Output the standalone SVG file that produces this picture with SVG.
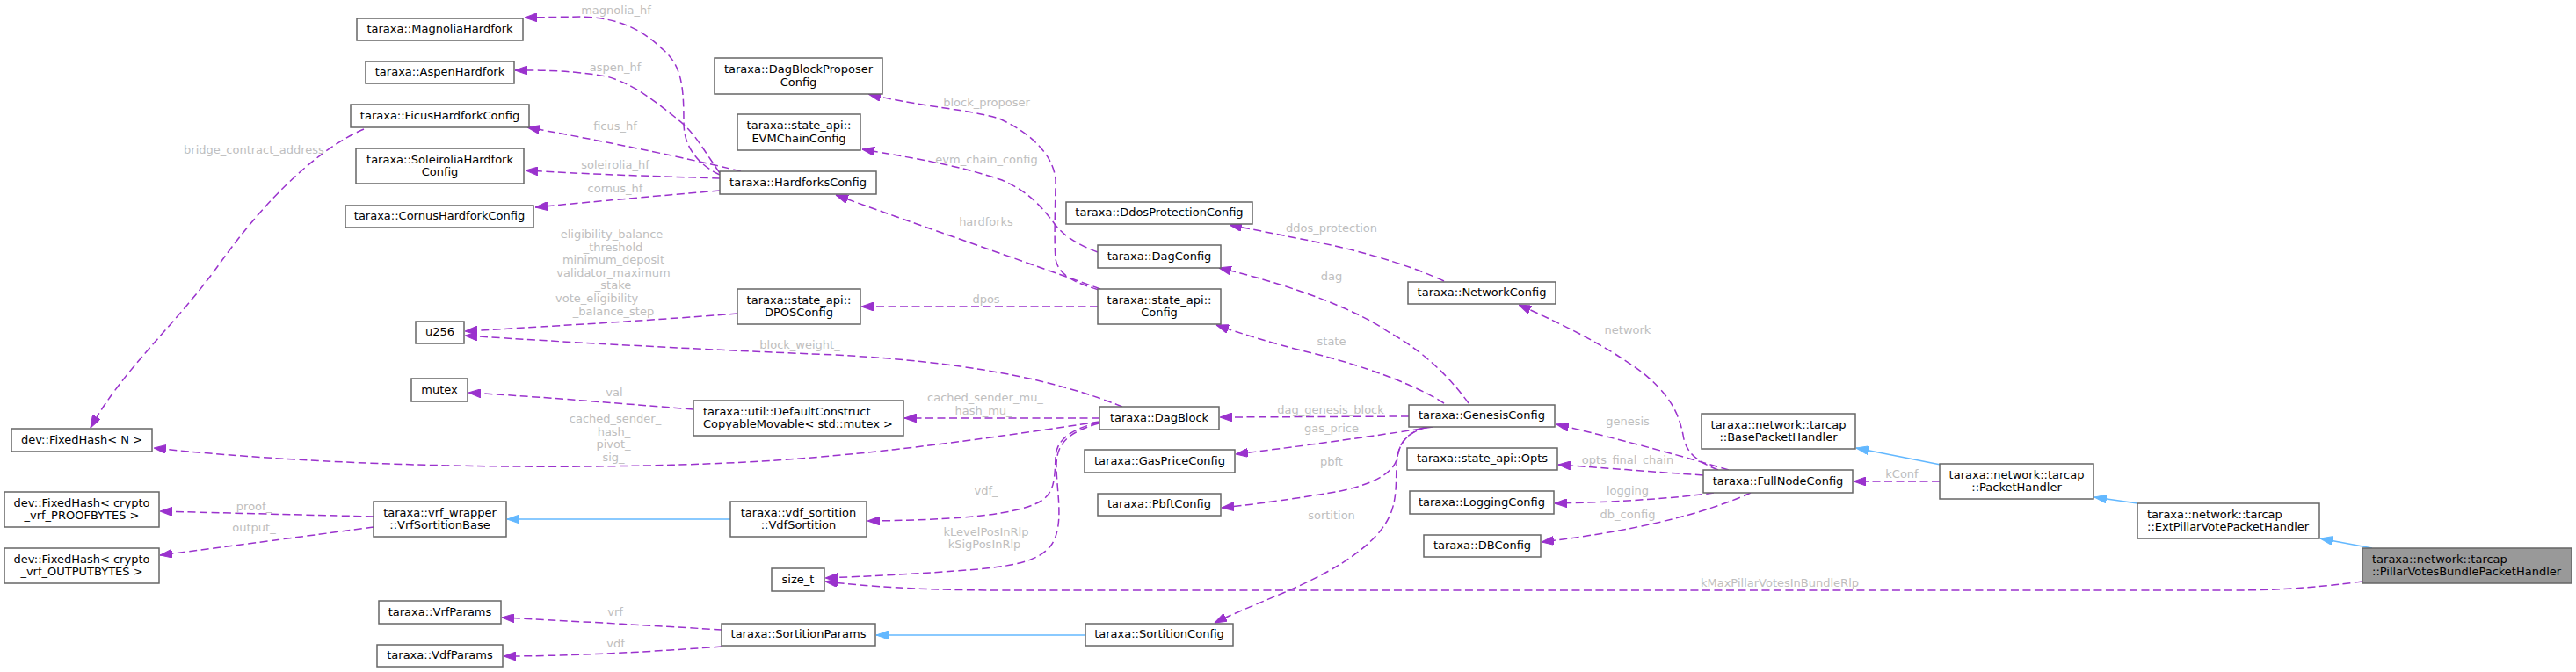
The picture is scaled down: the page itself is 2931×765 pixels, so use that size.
<svg xmlns="http://www.w3.org/2000/svg" width="2931" height="765" viewBox="0 0 2931 765">
<style>
.n rect{fill:#fff;stroke:#666;stroke-width:1.5}
.n.h rect{fill:#999}
.n text{font-family:"DejaVu Sans",sans-serif;font-size:13px;fill:#000;text-anchor:middle}
.n text.l{text-anchor:start}
.e{fill:none;stroke:#9a32cd;stroke-width:1.5;stroke-dasharray:9,4.5;marker-end:url(#ap)}
.i{fill:none;stroke:#63b8ff;stroke-width:1.5;marker-end:url(#ab)}
.lb{font-family:"DejaVu Sans",sans-serif;font-size:13px;fill:#bebebe;text-anchor:middle}
</style>
<defs>
<marker id="ap" viewBox="0 0 14 10" refX="14" refY="5" markerWidth="14" markerHeight="10" markerUnits="userSpaceOnUse" orient="auto"><path d="M0,0 L14,5 L0,10 z" fill="#9a32cd" stroke="#9a32cd" stroke-width="1"/></marker>
<marker id="ab" viewBox="0 0 14 10" refX="14" refY="5" markerWidth="14" markerHeight="10" markerUnits="userSpaceOnUse" orient="auto"><path d="M0,0 L14,5 L0,10 z" fill="#63b8ff" stroke="#63b8ff" stroke-width="1"/></marker>
</defs>
<rect width="2931" height="765" fill="#fff"/>
<g id="connectors">
<path class="e" d="M819,199 C800,190 778,172 778,140 C778,100 776,75 755,57 C735,38 710,20 660,19 L597,20"/>
<path class="e" d="M819,197 C800,170 790,150 770,135 C745,115 720,95 690,87 C650,80 620,80 586,80"/>
<path class="e" d="M843,195 C790,182 700,163 600,145"/>
<path class="e" d="M819,203 C760,201 680,199 598,194"/>
<path class="e" d="M819,217 C760,222 680,229 609,236"/>
<path class="e" d="M414,147 C360,170 300,230 250,300 C200,370 140,420 103,487"/>
<path class="e" d="M839,357 C750,364 650,370 529,377"/>
<path class="e" d="M1277,463 C1200,432 1100,412 950,404 C800,398 650,390 529,382"/>
<path class="e" d="M1251,476 L1029,476"/>
<path class="e" d="M789,466 C700,459 620,452 533,447"/>
<path class="e" d="M1251,480 C1150,495 1000,518 850,526 C650,536 380,532 175,510"/>
<path class="e" d="M1250,481 C1220,488 1202,500 1201,520 C1200,545 1200,560 1185,570 C1160,585 1100,592 987,593"/>
<path class="e" d="M1250,482 C1215,492 1202,505 1202,530 C1202,560 1212,600 1195,622 C1180,640 1150,645 1100,649 C1050,653 990,656 939,658"/>
<path class="e" d="M2688,662 C2640,668 2600,672 2540,672 L1150,672 C1050,672 990,668 939,662"/>
<path class="i" d="M831,591 L577,591"/>
<path class="e" d="M425,588 C340,586 260,584 182,582"/>
<path class="e" d="M425,600 C350,610 260,622 182,632"/>
<path class="e" d="M821,717 C740,712 650,707 571,703"/>
<path class="e" d="M821,736 C740,742 650,747 573,747"/>
<path class="i" d="M1235,723 L997,723"/>
<path class="e" d="M1625,486 C1600,492 1590,505 1589,530 C1588,560 1590,580 1570,605 C1545,635 1500,658 1460,675 C1420,692 1400,700 1382,709"/>
<path class="e" d="M1603,474 L1388,475"/>
<path class="e" d="M1630,486 C1560,497 1480,508 1406,517"/>
<path class="e" d="M1622,486 C1600,493 1592,505 1590,520 C1586,540 1560,552 1520,560 C1470,568 1430,574 1390,578"/>
<path class="e" d="M1643,459 C1600,432 1535,412 1485,400 C1445,390 1410,379 1384,370"/>
<path class="e" d="M1671,459 C1650,430 1620,400 1580,378 C1540,350 1460,322 1387,305"/>
<path class="e" d="M1643,320 C1600,300 1540,283 1480,272 C1450,266 1425,261 1399,256"/>
<path class="e" d="M1955,535 C1930,525 1918,515 1915,495 C1910,470 1900,450 1870,425 C1830,395 1780,370 1728,347"/>
<path class="e" d="M1967,535 C1900,515 1830,497 1771,483"/>
<path class="e" d="M1938,541 C1880,537 1830,533 1773,529"/>
<path class="e" d="M1950,561 C1900,568 1830,572 1769,573"/>
<path class="e" d="M1992,561 C1950,580 1880,602 1754,617"/>
<path class="e" d="M2207,548 L2109,548"/>
<path class="i" d="M2208,529 L2112,510"/>
<path class="i" d="M2432,573 L2383,566"/>
<path class="i" d="M2699,624 L2640,613"/>
<path class="e" d="M1252,329 C1150,292 1050,258 951,222"/>
<path class="e" d="M1249,349 L980,349"/>
<path class="e" d="M1250,330 C1225,322 1205,315 1201,295 C1199,270 1201,230 1201,205 C1199,175 1170,150 1137,135 C1100,124 1050,122 988,107"/>
<path class="e" d="M1249,287 C1225,278 1210,268 1200,255 C1185,235 1170,218 1140,205 C1090,188 1040,180 981,170"/>
<text class="lb" x="701" y="16">magnolia_hf</text>
<text class="lb" x="700" y="81">aspen_hf</text>
<text class="lb" x="700" y="148">ficus_hf</text>
<text class="lb" x="700" y="192">soleirolia_hf</text>
<text class="lb" x="700" y="219">cornus_hf</text>
<text class="lb" x="289" y="175">bridge_contract_address</text>
<text class="lb" x="696" y="271">eligibility_balance</text>
<text class="lb" x="697.5" y="285.5">_threshold</text>
<text class="lb" x="698" y="300">minimum_deposit</text>
<text class="lb" x="698" y="314.5">validator_maximum</text>
<text class="lb" x="697.5" y="329">_stake</text>
<text class="lb" x="632" y="343.5" style="text-anchor:start">vote_eligibility</text>
<text class="lb" x="698" y="358.5">_balance_step</text>
<text class="lb" x="910" y="397">block_weight_</text>
<text class="lb" x="699" y="450.5">val</text>
<text class="lb" x="700" y="481">cached_sender_</text>
<text class="lb" x="698.5" y="495.5">hash_</text>
<text class="lb" x="698" y="510">pivot_</text>
<text class="lb" x="698" y="524.5">sig_</text>
<text class="lb" x="1121" y="457">cached_sender_mu_</text>
<text class="lb" x="1119" y="471.5">hash_mu_</text>
<text class="lb" x="1122" y="563">vdf_</text>
<text class="lb" x="1122" y="609.5">kLevelPosInRlp</text>
<text class="lb" x="1120" y="624">kSigPosInRlp</text>
<text class="lb" x="289" y="580.5">proof_</text>
<text class="lb" x="289" y="604.5">output_</text>
<text class="lb" x="700" y="700.5">vrf</text>
<text class="lb" x="700.5" y="737">vdf</text>
<text class="lb" x="1122.5" y="121">block_proposer</text>
<text class="lb" x="1122.5" y="185.5">evm_chain_config</text>
<text class="lb" x="1122" y="257">hardforks</text>
<text class="lb" x="1122" y="345">dpos</text>
<text class="lb" x="1515" y="264">ddos_protection</text>
<text class="lb" x="1515" y="319">dag</text>
<text class="lb" x="1515" y="393">state</text>
<text class="lb" x="1852" y="380">network</text>
<text class="lb" x="1514" y="471">dag_genesis_block</text>
<text class="lb" x="1515" y="492">gas_price</text>
<text class="lb" x="1515" y="529.5">pbft</text>
<text class="lb" x="1515" y="591">sortition</text>
<text class="lb" x="1852" y="484">genesis</text>
<text class="lb" x="1852" y="528">opts_final_chain</text>
<text class="lb" x="1852" y="563">logging</text>
<text class="lb" x="1852" y="589.5">db_config</text>
<text class="lb" x="2164" y="544">kConf</text>
<text class="lb" x="2025" y="668">kMaxPillarVotesInBundleRlp</text>
</g>
<g id="n_magnolia" class="n"><rect x="406" y="21" width="189" height="25"/><text x="500.5" y="37">taraxa::MagnoliaHardfork</text></g>
<g id="n_aspen" class="n"><rect x="416" y="70" width="169" height="25"/><text x="500.5" y="86">taraxa::AspenHardfork</text></g>
<g id="n_ficus" class="n"><rect x="399" y="119" width="203" height="26"/><text x="500.5" y="135.5">taraxa::FicusHardforkConfig</text></g>
<g id="n_soleirolia" class="n"><rect x="405" y="169" width="191" height="40"/><text x="500.5" y="185.5">taraxa::SoleiroliaHardfork</text><text x="500.5" y="200">Config</text></g>
<g id="n_cornus" class="n"><rect x="393" y="234" width="214" height="25"/><text x="500" y="250">taraxa::CornusHardforkConfig</text></g>
<g id="n_u256" class="n"><rect x="473" y="366" width="55" height="25"/><text x="500.5" y="382">u256</text></g>
<g id="n_mutex" class="n"><rect x="468" y="431" width="64" height="26"/><text x="500" y="447.5">mutex</text></g>
<g id="n_fixedhashN" class="n"><rect x="13" y="488" width="160" height="26"/><text x="93" y="504.5">dev::FixedHash&lt; N &gt;</text></g>
<g id="n_proofbytes" class="n"><rect x="5" y="560" width="176" height="40"/><text x="93" y="576.5">dev::FixedHash&lt; crypto</text><text x="93" y="591">_vrf_PROOFBYTES &gt;</text></g>
<g id="n_outputbytes" class="n"><rect x="5" y="624" width="176" height="40"/><text x="93" y="640.5">dev::FixedHash&lt; crypto</text><text x="93" y="655">_vrf_OUTPUTBYTES &gt;</text></g>
<g id="n_vrfsortitionbase" class="n"><rect x="425" y="571" width="151" height="40"/><text x="500.5" y="587.5">taraxa::vrf_wrapper</text><text x="500.5" y="602">::VrfSortitionBase</text></g>
<g id="n_vrfparams" class="n"><rect x="431" y="684" width="139" height="26"/><text x="500.5" y="700.5">taraxa::VrfParams</text></g>
<g id="n_vdfparams" class="n"><rect x="429" y="734" width="143" height="25"/><text x="500.5" y="750">taraxa::VdfParams</text></g>
<g id="n_dagblockproposer" class="n"><rect x="813" y="66" width="191" height="41"/><text x="908.5" y="83">taraxa::DagBlockProposer</text><text x="908.5" y="97.5">Config</text></g>
<g id="n_evmchain" class="n"><rect x="839" y="130" width="140" height="41"/><text x="909" y="147">taraxa::state_api::</text><text x="909" y="161.5">EVMChainConfig</text></g>
<g id="n_hardforks" class="n"><rect x="819" y="195" width="178" height="26"/><text x="908" y="211.5">taraxa::HardforksConfig</text></g>
<g id="n_dpos" class="n"><rect x="839" y="329" width="140" height="40"/><text x="909" y="345.5">taraxa::state_api::</text><text x="909" y="360">DPOSConfig</text></g>
<g id="n_defaultconstruct" class="n"><rect x="789" y="456" width="239" height="40"/><text class="l" x="800" y="472.5">taraxa::util::DefaultConstruct</text><text class="l" x="800" y="487">CopyableMovable&lt; std::mutex &gt;</text></g>
<g id="n_vdfsortition" class="n"><rect x="831" y="571" width="155" height="40"/><text x="908.5" y="587.5">taraxa::vdf_sortition</text><text x="908.5" y="602">::VdfSortition</text></g>
<g id="n_sizet" class="n"><rect x="878" y="647" width="60" height="26"/><text x="908" y="663.5">size_t</text></g>
<g id="n_sortitionparams" class="n"><rect x="821" y="710" width="175" height="25"/><text x="908.5" y="726">taraxa::SortitionParams</text></g>
<g id="n_ddos" class="n"><rect x="1213" y="230" width="212" height="25"/><text x="1319" y="246">taraxa::DdosProtectionConfig</text></g>
<g id="n_dagconfig" class="n"><rect x="1249" y="279" width="140" height="26"/><text x="1319" y="295.5">taraxa::DagConfig</text></g>
<g id="n_stateconfig" class="n"><rect x="1249" y="329" width="140" height="40"/><text x="1319" y="345.5">taraxa::state_api::</text><text x="1319" y="360">Config</text></g>
<g id="n_dagblock" class="n"><rect x="1251" y="463" width="136" height="26"/><text x="1319" y="479.5">taraxa::DagBlock</text></g>
<g id="n_gasprice" class="n"><rect x="1234" y="512" width="171" height="26"/><text x="1319.5" y="528.5">taraxa::GasPriceConfig</text></g>
<g id="n_pbft" class="n"><rect x="1249" y="562" width="140" height="25"/><text x="1319" y="578">taraxa::PbftConfig</text></g>
<g id="n_sortitionconfig" class="n"><rect x="1235" y="710" width="168" height="25"/><text x="1319" y="726">taraxa::SortitionConfig</text></g>
<g id="n_network" class="n"><rect x="1602" y="321" width="168" height="25"/><text x="1686" y="337">taraxa::NetworkConfig</text></g>
<g id="n_genesis" class="n"><rect x="1603" y="461" width="166" height="25"/><text x="1686" y="477">taraxa::GenesisConfig</text></g>
<g id="n_opts" class="n"><rect x="1601" y="510" width="171" height="25"/><text x="1686.5" y="526">taraxa::state_api::Opts</text></g>
<g id="n_logging" class="n"><rect x="1604" y="559" width="164" height="26"/><text x="1686" y="575.5">taraxa::LoggingConfig</text></g>
<g id="n_dbconfig" class="n"><rect x="1620" y="609" width="133" height="25"/><text x="1686.5" y="625">taraxa::DBConfig</text></g>
<g id="n_basepackethandler" class="n"><rect x="1936" y="471" width="175" height="40"/><text x="2023.5" y="487.5">taraxa::network::tarcap</text><text x="2023.5" y="502">::BasePacketHandler</text></g>
<g id="n_fullnode" class="n"><rect x="1938" y="535" width="170" height="26"/><text x="2023" y="551.5">taraxa::FullNodeConfig</text></g>
<g id="n_packethandler" class="n"><rect x="2207" y="528" width="175" height="40"/><text x="2294.5" y="544.5">taraxa::network::tarcap</text><text x="2294.5" y="559">::PacketHandler</text></g>
<g id="n_extpillar" class="n"><rect x="2432" y="573" width="207" height="40"/><text class="l" x="2443" y="589.5">taraxa::network::tarcap</text><text class="l" x="2443" y="604">::ExtPillarVotePacketHandler</text></g>
<g id="n_pillarbundle" class="n h"><rect x="2688" y="624" width="238" height="40"/><text class="l" x="2699" y="640.5">taraxa::network::tarcap</text><text class="l" x="2699" y="655">::PillarVotesBundlePacketHandler</text></g>
</svg>
